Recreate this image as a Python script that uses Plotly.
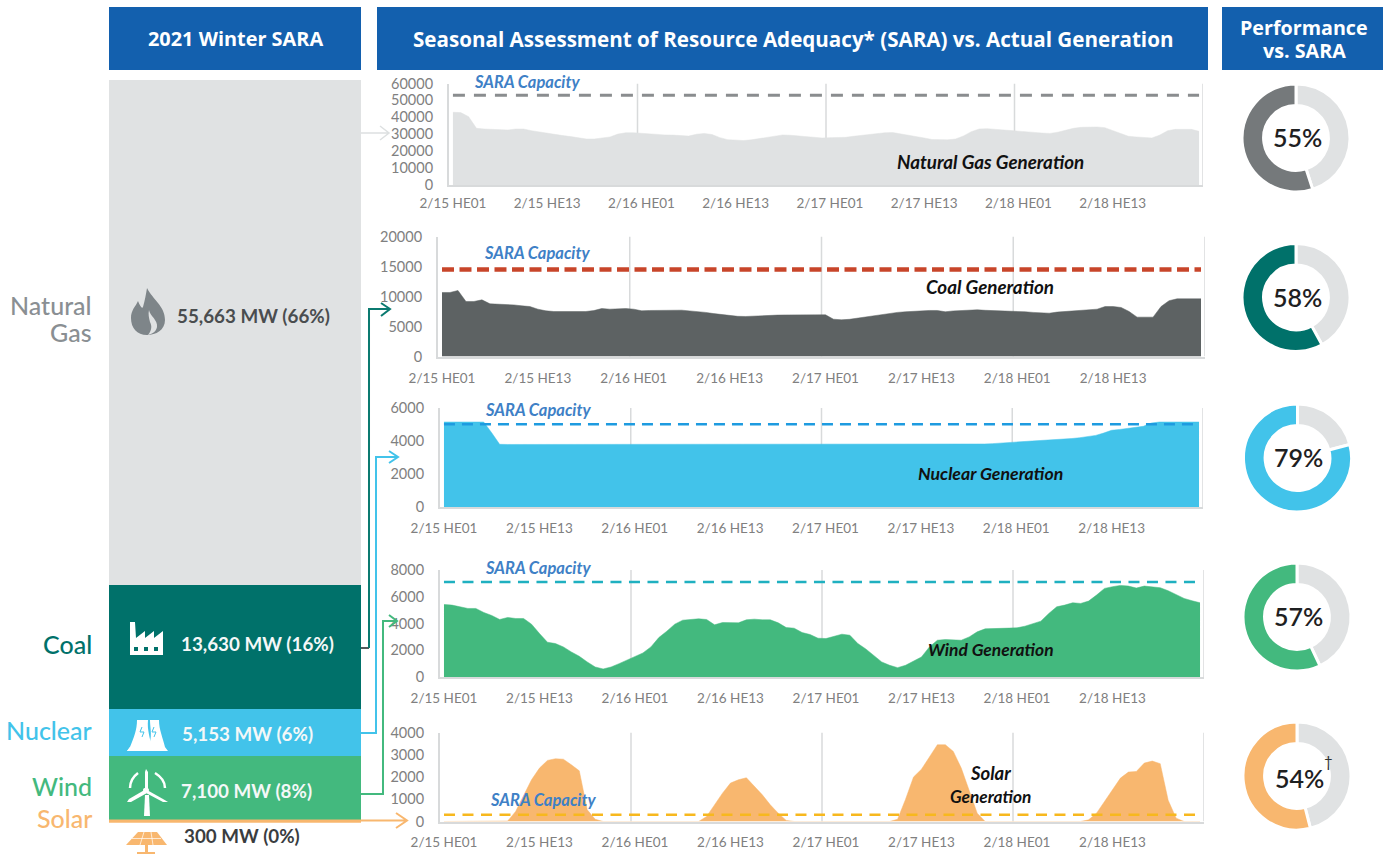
import re
import plotly.graph_objects as go

W, H = 1385, 857

# ---------- data ----------
hours = list(range(96))
tick_positions = [0, 12, 24, 36, 48, 60, 72, 84]
tick_labels = ["2/15 HE01", "2/15 HE13", "2/16 HE01", "2/16 HE13",
               "2/17 HE01", "2/17 HE13", "2/18 HE01", "2/18 HE13"]

gas = [43000, 42800, 40400, 33500, 33100, 32900, 32900, 32500, 33100, 33100, 32100, 31300,
       30500, 29800, 29200, 28600, 27800, 27200, 27200, 27600, 28400, 30100, 30900, 30900,
       30600, 30000, 29600, 29600, 29500, 29200, 28900, 30000, 30500, 29800, 28000, 26800,
       26600, 26300, 26700, 27500, 28300, 29200, 29600, 29400, 29000, 28600, 28200, 27800,
       28000, 28100, 28200, 28800, 29400, 30000, 30500, 30900, 31000, 30300, 29500, 28600,
       27800, 26900, 26600, 26700, 27200, 29000, 31500, 33100, 33300, 33000, 32600, 32200,
       32000, 31600, 31100, 30700, 30500, 31200, 32300, 33500, 34100, 34400, 34300, 33900,
       32300, 30300, 28800, 28400, 28000, 27800, 29500, 32100, 32900, 33000, 32900, 31700]
coal = [10670, 10670, 11000, 9170, 9170, 9440, 8780, 8750, 8600, 8600, 8440, 8330,
        7890, 7610, 7500, 7500, 7500, 7500, 7500, 7650, 8000, 7890, 8000, 8000,
        7890, 7610, 7670, 7700, 7720, 7720, 7720, 7600, 7500, 7350, 7150, 7000,
        6780, 6700, 6670, 6750, 6830, 6870, 6900, 6930, 6950, 6980, 7000, 7000,
        6950, 6220, 6110, 6200, 6400, 6650, 6800, 7000, 7220, 7350, 7450, 7550,
        7670, 7670, 7670, 7450, 7600, 7700, 7780, 7780, 7700, 7650, 7650, 7650,
        7550, 7450, 7350, 7250, 7220, 7400, 7500, 7560, 7650, 7800, 7890, 8330,
        8330, 8170, 7500, 6560, 6560, 6560, 8330, 9300, 9610, 9610, 9610, 9610]
nuclear = [5150, 5150, 5150, 5150, 5150, 5150, 4500, 3800, 3790, 3790, 3790, 3790,
           3780, 3780, 3780, 3780, 3780, 3780, 3780, 3780, 3780, 3780, 3780, 3780,
           3780, 3780, 3780, 3780, 3780, 3780, 3780, 3780, 3780, 3780, 3780, 3780,
           3780, 3780, 3780, 3780, 3780, 3780, 3780, 3780, 3780, 3780, 3780, 3780,
           3780, 3780, 3780, 3780, 3780, 3780, 3780, 3780, 3790, 3790, 3790, 3790,
           3790, 3790, 3790, 3790, 3790, 3800, 3800, 3800, 3820, 3840, 3880, 3920,
           3950, 3980, 4000, 4030, 4050, 4070, 4100, 4150, 4200, 4270, 4340, 4480,
           4650, 4700, 4750, 4820, 4890, 5090, 5150, 5150, 5150, 5150, 5150, 5150]
wind = [5425, 5375, 5250, 5125, 5125, 4825, 4600, 4300, 4450, 4375, 4375, 3950,
        3250, 2600, 2500, 2250, 1875, 1550, 1125, 750, 600, 750, 1000, 1250,
        1500, 1800, 2250, 2950, 3425, 3950, 4250, 4325, 4350, 4300, 3900, 4075,
        4075, 4050, 4275, 4325, 4275, 4275, 4050, 3700, 3650, 3325, 3175, 2900,
        2875, 3050, 3200, 3125, 2500, 2100, 1625, 1125, 875, 700, 875, 1175,
        1500, 2250, 2750, 2800, 2800, 2750, 3000, 3375, 3600, 3625, 3600, 3650,
        3675, 3800, 4000, 4175, 4750, 5250, 5375, 5550, 5500, 5675, 6125, 6625,
        6750, 6850, 6800, 6650, 6800, 6750, 6675, 6450, 6150, 5875, 5700, 5550]
solar = [0, 0, 0, 0, 0, 0, 0, 0, 20, 450, 1200, 1875,
         2400, 2745, 2820, 2800, 2550, 2280, 525, 100, 0, 0, 0, 0,
         0, 0, 0, 0, 0, 0, 0, 0, 0, 225, 750, 1275,
         1725, 1875, 1965, 1575, 1200, 750, 375, 50, 0, 0, 0, 0,
         0, 0, 0, 0, 0, 0, 0, 0, 0, 100, 1000, 2000,
         2350, 2900, 3450, 3450, 3150, 2400, 1400, 375, 0, 0, 0, 0,
         0, 0, 0, 0, 0, 0, 0, 0, 0, 75, 375, 900,
         1425, 1950, 2220, 2250, 2625, 2715, 2600, 950, 150, 0, 0, 0]

sara_capacity = [53000, 14500, 5010, 7100, 300]
y_ticks = [[0, 10000, 20000, 30000, 40000, 50000, 60000],
           [0, 5000, 10000, 15000, 20000],
           [0, 2000, 4000, 6000],
           [0, 2000, 4000, 6000, 8000],
           [0, 1000, 2000, 3000, 4000]]
resource_names = ["Solar", "Wind", "Nuclear", "Coal", "Natural Gas"]
resource_mw = [300, 7100, 5153, 13630, 55663]
performance = [55, 58, 79, 57, 54]

# ---------- style ----------
C_GAS, C_COAL_BAR, C_COAL = "#E0E2E3", "#00716A", "#5D6263"
C_NUC, C_WIND, C_SOLAR = "#42C3EA", "#43B97E", "#F8B76F"
C_HEAD = "#1360AE"
C_TICK = "#808080"
C_AXIS = "#D8DADB"
FONT = "Lato"
HEAD_FONT = "Open Sans"


def px(x):
    return x / W


def py(y):
    return 1 - y / H


def path(d):
    nums = iter(range(10**6))

    def rep(m):
        v = float(m.group(0))
        return f"{px(v):.5f}" if next(nums) % 2 == 0 else f"{py(v):.5f}"

    return re.sub(r"-?\d+(?:\.\d+)?", rep, d)


fig = go.Figure()
shapes, notes = [], []


def text(x, y, s, size, color, anchor="center", weight=400, italic=False, font=FONT):
    notes.append(dict(x=px(x), y=py(y), xref="paper", yref="paper", text=s, showarrow=False,
                      xanchor=anchor, yanchor="middle", align=anchor,
                      font=dict(family=font, size=size, color=color, weight=weight,
                                style="italic" if italic else "normal")))


def solid(d, fill, line=None, lw=0):
    shapes.append(dict(type="path", xref="paper", yref="paper", path=path(d),
                       fillcolor=fill, line=dict(color=line or fill, width=lw)))


def stroke(d, color, lw=1.5):
    shapes.append(dict(type="path", xref="paper", yref="paper", path=path(d),
                       line=dict(color=color, width=lw)))


# ---------- left stacked bar ----------
bar_colors = [C_SOLAR, C_WIND, C_NUC, C_COAL_BAR, C_GAS]
for name, v, c in zip(resource_names, resource_mw, bar_colors):
    fig.add_trace(go.Bar(x=["SARA"], y=[v], name=name, marker=dict(color=c, line_width=0),
                         xaxis="x6", yaxis="y6", showlegend=False))
layout = dict(
    xaxis6=dict(domain=[px(109), px(361)], anchor="y6", visible=False, automargin=False),
    yaxis6=dict(domain=[py(822.7), py(80)], anchor="x6", visible=False, automargin=False,
                range=[0, sum(resource_mw)]),
)

# ---------- generation panels ----------
panels = [
    dict(s=gas, fill=C_GAS, line="#8A8D8F", w=3, dash="12px,9px", box=(449, 1203, 83.5, 185), ymax=60000, xoff=5),
    dict(s=coal, fill=C_COAL, line="#C8452A", w=4.5, dash="12px,5.5px", box=(438, 1205, 236.5, 356.5), ymax=20000, xoff=8),
    dict(s=nuclear, fill=C_NUC, line="#1E9BE0", w=2.5, dash="11px,7px", box=(440, 1203, 408, 507), ymax=6000, xoff=8),
    dict(s=wind, fill=C_WIND, line="#1FB0C0", w=2.5, dash="11px,7.5px", box=(440, 1204, 570, 677), ymax=8000, xoff=8),
    dict(s=solar, fill=C_SOLAR, line="#F7B81E", w=2.5, dash="11px,7.5px", box=(440, 1204, 732.5, 821.5), ymax=4000, xoff=7),
]
for i, p in enumerate(panels):
    n = i + 1
    xa, ya = ("x", "y") if n == 1 else (f"x{n}", f"y{n}")
    fig.add_trace(go.Scatter(x=hours, y=p["s"], mode="lines", fill="tozeroy", fillcolor=p["fill"],
                             line=dict(color=p["fill"], width=0.5), xaxis=xa, yaxis=ya, showlegend=False))
    fig.add_trace(go.Scatter(x=hours, y=[sara_capacity[i]] * len(hours), mode="lines",
                             line=dict(color=p["line"], width=p["w"], dash=p["dash"]),
                             xaxis=xa, yaxis=ya, showlegend=False))
    l, r, t, b = p["box"]
    suffix = "" if n == 1 else str(n)
    layout[f"xaxis{suffix}"] = dict(
        domain=[px(l), px(r)], anchor=f"y{suffix}", range=[-0.5, 95.5], automargin=False,
        tickmode="array", tickvals=tick_positions, ticktext=tick_labels,
        showgrid=False, zeroline=False, showline=True, linecolor=C_AXIS, linewidth=2,
        ticks="", tickangle=0, ticklabelstandoff=p["xoff"],
        tickfont=dict(family=FONT, size=13.5, color=C_TICK))
    layout[f"yaxis{suffix}"] = dict(
        domain=[py(b), py(t)], anchor=f"x{suffix}", range=[0, p["ymax"]], automargin=False,
        tickmode="array", tickvals=y_ticks[i], showgrid=False, zeroline=False,
        showline=True, linecolor=C_AXIS, linewidth=2, ticks="", ticklabelstandoff=11,
        tickformat="d", tickfont=dict(family=FONT, size=14.5, color=C_TICK))
    for gx in (23.5, 47.5, 71.5, 95.5):
        shapes.append(dict(type="line", xref=xa, yref=ya, x0=gx, x1=gx, y0=0, y1=p["ymax"],
                           layer="below", line=dict(color=C_AXIS, width=1.5)))

# ---------- donuts ----------
donut_colors = ["#75797B", C_COAL_BAR, C_NUC, C_WIND, C_SOLAR]
donut_centres = [(1296, 138), (1296, 297.5), (1297.5, 458), (1297, 617), (1297, 776)]
text_offsets = [(1, -1), (1, -1), (1, -1), (1, -1), (2, 2)]
for v, c, (cx, cy), (dx, dy) in zip(performance, donut_colors, donut_centres, text_offsets):
    fig.add_trace(go.Pie(values=[100 - v, v], sort=False, direction="clockwise", rotation=0,
                         hole=0.6, textinfo="none", showlegend=False, hoverinfo="skip",
                         marker=dict(colors=[C_GAS, c], line=dict(color="white", width=3)),
                         domain=dict(x=[px(cx - 54), px(cx + 54)], y=[py(cy + 54), py(cy - 54)])))
    text(cx + dx, cy + dy, f"{v}%", 25, "#1E2021", weight=600)
text(1328, 761, "†", 15, "#2F3233")

# ---------- headers ----------
for x0, x1 in ((109, 361), (377, 1208), (1222, 1383)):
    shapes.append(dict(type="rect", xref="paper", yref="paper", x0=px(x0), x1=px(x1), y0=py(70), y1=py(7),
                       fillcolor=C_HEAD, line_width=0, layer="below"))
text(235, 39, "2021 Winter SARA", 19.9, "white", weight=700, font=HEAD_FONT)
text(792.5, 39, "Seasonal Assessment of Resource Adequacy* (SARA) vs. Actual Generation", 20.6, "white",
     weight=700, font=HEAD_FONT)
text(1304, 27, "Performance", 19.7, "white", weight=700, font=HEAD_FONT)
text(1304, 50, "vs. SARA", 19.7, "white", weight=700, font=HEAD_FONT)

# ---------- left labels ----------
GREY = "#8A8F93"
text(94, 305, "Natural", 25, GREY, "right", weight=500)
text(94, 332, "Gas", 25, GREY, "right", weight=500)
text(94, 644, "Coal", 25, C_COAL_BAR, "right", weight=500)
text(94, 730, "Nuclear", 25, C_NUC, "right", weight=500)
text(94, 786, "Wind", 25, C_WIND, "right", weight=500)
text(94, 818, "Solar", 25, C_SOLAR, "right", weight=500)

text(175, 315, "55,663 MW (66%)", 18.8, "#4A4D4F", "left", weight=700)
text(179, 643, "13,630 MW (16%)", 18.8, "#F4F8F8", "left", weight=700)
text(180, 733, "5,153 MW (6%)", 18.8, "#F4F8F8", "left", weight=700)
text(179, 790, "7,100 MW (8%)", 18.8, "#F4F8F8", "left", weight=700)
text(182, 835, "300 MW (0%)", 18.8, "#3A3D3F", "left", weight=700)

# ---------- chart captions ----------
BLUE = "#3E80C6"
for x, y in ((527, 82), (537, 253), (538, 410), (538, 568), (543, 800)):
    text(x, y, "SARA Capacity", 16.5, BLUE, weight=700, italic=True)
BLK = "#111111"
text(990, 161, "Natural Gas Generation", 18.8, BLK, weight=700, italic=True)
text(990, 286, "Coal Generation", 18.8, BLK, weight=700, italic=True)
text(990, 473, "Nuclear Generation", 17.7, BLK, weight=700, italic=True)
text(991, 649, "Wind Generation", 17.4, BLK, weight=700, italic=True)
text(991, 773, "Solar", 18.5, BLK, weight=700, italic=True)
text(990, 796, "Generation", 17.3, BLK, weight=700, italic=True)

# ---------- connector arrows ----------
stroke("M 361 133 L 388 133 M 380 126 L 389 133 L 380 140", "#DDE0E1", 1.5)
stroke("M 361 648 L 369 648", "#55595B", 2)
stroke("M 369 648 L 369 309 L 389 309 M 381 303 L 390 309 L 381 316", "#0B7A70", 2)
stroke("M 361 733 L 376 733 L 376 457 L 397 457 M 389 451 L 398 457 L 389 463", C_NUC, 2)
stroke("M 361 794 L 383 794 L 383 621 L 396 621 M 389 615 L 397 621 L 389 627", C_WIND, 2)
stroke("M 109 820.5 L 406 820.5 M 396 813 L 407 820.5 L 396 828", C_SOLAR, 2)

# ---------- icons ----------
# flame
solid("M 147 288 C 153 300 165 306 165 320 C 165 330 156 335 147 335 C 137 335 131 328 131 318 "
      "C 131 310 136 306 138 301 C 140 306 142 309 143 307 C 145 300 146 294 147 288 Z", "#7E8589")
solid("M 149 310 C 150 316 158 320 157 327 C 156 332 152 334 148 335 C 152 330 152 326 150 322 "
      "C 149 318 148 314 149 310 Z", C_GAS)
# factory
solid("M 130 655 L 130 622 L 135 622 L 136 638 L 145 631 L 145 638 L 154 631 L 154 638 L 163 631 "
      "L 163 655 Z", "white")
for wx in (134, 144, 154):
    solid(f"M {wx} 647 L {wx + 4} 647 L {wx + 4} 651 L {wx} 651 Z", C_COAL_BAR)
# cooling towers
solid("M 127 751 L 130 747 C 134 737 137 730 137 720 L 148 720 C 147 730 150 738 152 747 L 130 751 Z", "white")
solid("M 148 747 C 153 738 150 728 150 720 L 159 720 C 159 730 163 738 165 747 L 168 751 L 127 751 "
      "L 130 747 Z", "white")
stroke("M 142 727 L 140 732 L 144 732 L 142 737", C_NUC, 1)
stroke("M 154 727 L 152 732 L 156 732 L 154 737", C_NUC, 1)
# wind turbine
solid("M 145 790 L 145 772 L 146 769 L 148 772 L 148 790 Z", "white")
solid("M 144.5 790 L 129 799 L 127 802 L 131 802 L 147 793 Z", "white")
solid("M 147 790 L 163 799 L 168 802 L 163 802 L 146 793 Z", "white")
solid("M 145 795 L 149 795 L 150 816 L 144 816 Z", "white")
solid("M 143 790 C 143 787 149 787 149 790 C 149 793 143 793 143 790 Z", "white")
stroke("M 130 788 C 130 781 134 776 138 773", "white", 2.5)
stroke("M 155 773 C 160 776 165 781 165 788", "white", 2.5)
# solar panel
solid("M 126 845 L 138 832 L 157 832 L 167 845 Z", C_SOLAR)
solid("M 145 845 L 148 845 L 148 852 L 155 852 L 155 854 L 137 854 L 137 852 L 145 852 Z", C_SOLAR)
stroke("M 132 838.5 L 161 838.5 M 144 832 L 140 845 M 151 832 L 153 845", "white", 0.7)

fig.update_layout(
    width=W, height=H, margin=dict(l=0, r=0, t=0, b=0), autosize=False,
    paper_bgcolor="white", plot_bgcolor="rgba(0,0,0,0)", barmode="stack", bargap=0,
    shapes=shapes, annotations=notes, showlegend=False, **layout)

fig.write_html("out.html", post_script="document.body.style.margin='0';",
               config=dict(displayModeBar=False))
